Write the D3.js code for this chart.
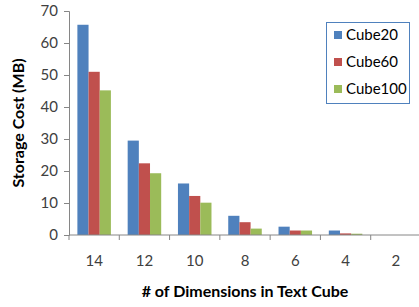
<!DOCTYPE html>
<html>
<head>
<script src="https://d3js.org/d3.v7.min.js"></script>
<style>
body{margin:0;background:#fff;}
text{font-family:Lato,"Open Sans",sans-serif;}
</style>
</head>
<body>
<div id="chart"></div>
<script>
var categories = ["14","12","10","8","6","4","2"];
var seriesNames = ["Cube20","Cube60","Cube100"];
var cube20 = [65.7, 29.5, 16.1, 6.0, 2.6, 1.4, 0];
var cube60 = [51.0, 22.4, 12.2, 4.0, 1.4, 0.5, 0];
var cube100 = [45.2, 19.3, 10.1, 2.0, 1.4, 0.4, 0];
var yTicks = [0,10,20,30,40,50,60,70];
var colors = ["#4F81BD","#C0504D","#9BBB59"];

var w = 419, h = 307;
var mLeft = 69, mRight = 421, mTop = 11, mBottom = 235;

var svg = d3.select("#chart").append("svg")
  .attr("width", w).attr("height", h);

var x = d3.scaleBand().domain(categories).range([mLeft, mRight]).padding(0);
var x1 = d3.scaleBand().domain(seriesNames).range([0, x.bandwidth()]).paddingInner(0).paddingOuter(0.75);
var y = d3.scaleLinear().domain([0,70]).range([mBottom, mTop]);

var series = [cube20, cube60, cube100];

// y axis
var yAxis = svg.append("g").attr("transform","translate("+mLeft+",0)")
  .call(d3.axisLeft(y).tickValues(yTicks).tickSize(5).tickPadding(6));
yAxis.select(".domain").attr("stroke","#868686");
yAxis.selectAll(".tick line").attr("stroke","#868686");
yAxis.selectAll("text").attr("font-size",15).attr("fill","#404040").style("font-family","Lato,'Open Sans',sans-serif");

// bars
series.forEach(function(vals, si){
  svg.append("g").selectAll("rect")
    .data(vals)
    .enter().append("rect")
    .attr("x", function(d,i){ return x(categories[i]) + x1(seriesNames[si]); })
    .attr("width", x1.bandwidth())
    .attr("y", function(d){ return y(d); })
    .attr("height", function(d){ return mBottom - y(d); })
    .attr("fill", colors[si]);
});

// x axis
var xg = svg.append("g").attr("transform","translate(0,"+mBottom+")");
xg.append("line").attr("x1",mLeft).attr("x2",mRight).attr("stroke","#868686");
xg.selectAll(".tk").data(categories).enter().append("line")
  .attr("x1", function(d){ return x(d); }).attr("x2", function(d){ return x(d); })
  .attr("y1",0).attr("y2",5).attr("stroke","#868686");
xg.selectAll(".lbl").data(categories).enter().append("text")
  .attr("x", function(d){ return x(d) + x.bandwidth()/2; })
  .attr("y", 31)
  .attr("text-anchor","middle")
  .attr("font-size",15).attr("fill","#404040")
  .text(function(d){ return d; });

// titles
svg.append("text").attr("x", 245).attr("y", 297).attr("text-anchor","middle")
  .attr("font-size",16).attr("font-weight","bold").attr("fill","#000")
  .text("# of Dimensions in Text Cube");
svg.append("text").attr("transform","translate(24,123) rotate(-90)").attr("text-anchor","middle")
  .attr("font-size",16).attr("font-weight","bold").attr("fill","#000")
  .text("Storage Cost (MB)");

// legend
var lg = svg.append("g");
lg.append("rect").attr("x",326.5).attr("y",22.5).attr("width",83).attr("height",81)
  .attr("fill","#fff").attr("stroke","#4F81BD");
seriesNames.forEach(function(n,i){
  lg.append("rect").attr("x",334).attr("y",31+i*27).attr("width",8).attr("height",8).attr("fill",colors[i]);
  lg.append("text").attr("x",346).attr("y",40+i*27).attr("font-size",15).attr("fill","#000").text(n);
});
</script>
</body>
</html>
